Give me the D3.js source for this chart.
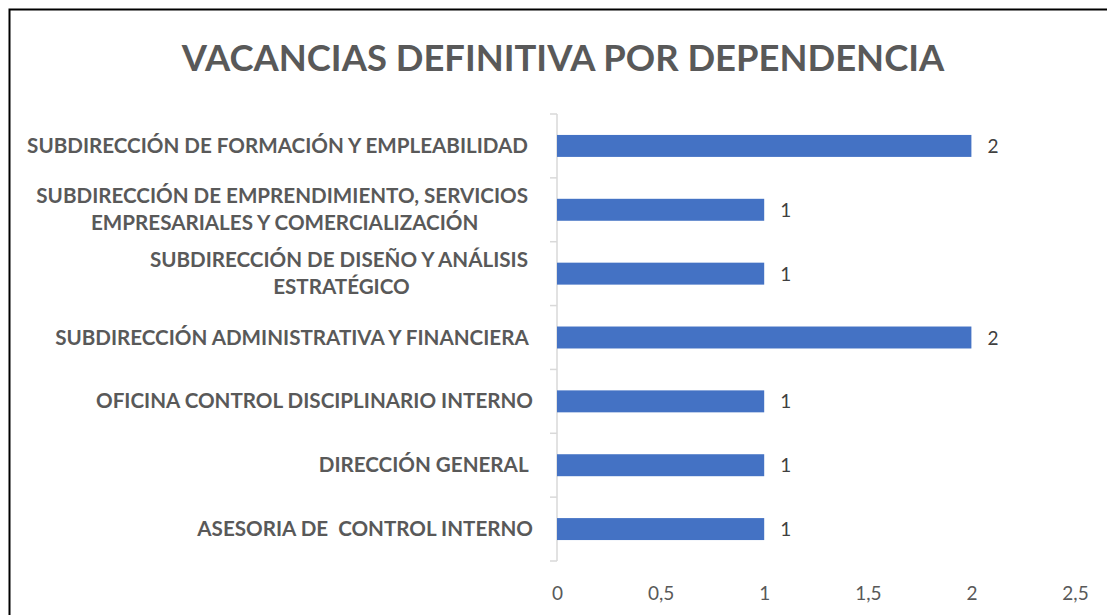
<!DOCTYPE html>
<html>
<head>
<meta charset="utf-8">
<script src="https://cdn.jsdelivr.net/npm/d3@7"></script>
<style>
  html, body { margin: 0; padding: 0; background: #fff; }
  svg { display: block; }
  text { font-family: Lato, "Open Sans", sans-serif; white-space: pre; }
</style>
</head>
<body>
<div id="chart"></div>
<script>
// data, bottom to top as in the picture ("|" marks the line break)
const categories = [
  "ASESORIA DE  CONTROL INTERNO",
  "DIRECCIÓN GENERAL ",
  "OFICINA CONTROL DISCIPLINARIO INTERNO",
  "SUBDIRECCIÓN ADMINISTRATIVA Y FINANCIERA ",
  "SUBDIRECCIÓN DE DISEÑO Y ANÁLISIS |ESTRATÉGICO",
  "SUBDIRECCIÓN DE EMPRENDIMIENTO, SERVICIOS |EMPRESARIALES Y COMERCIALIZACIÓN",
  "SUBDIRECCIÓN DE FORMACIÓN Y EMPLEABILIDAD "
];
const values = [1, 1, 1, 2, 1, 1, 2];
const xTicks = [0, 0.5, 1, 1.5, 2, 2.5];
const title = "VACANCIAS DEFINITIVA POR DEPENDENCIA";

const width = 1107, height = 615;
const margin = {top: 114, right: 32, bottom: 54, left: 557};

const svg = d3.select("#chart").append("svg")
  .attr("width", width)
  .attr("height", height);

// chart border (runs off the right and bottom of the picture)
svg.append("rect")
  .attr("x", 9.5).attr("y", 9.5)
  .attr("width", 1110).attr("height", 620)
  .attr("fill", "none")
  .attr("stroke", "#000")
  .attr("stroke-width", 2);

svg.append("text")
  .attr("x", 563)
  .attr("y", 71)
  .attr("text-anchor", "middle")
  .attr("font-size", 36.4)
  .attr("font-weight", "bold")
  .attr("fill", "#595959")
  .text(title);

const x = d3.scaleLinear()
  .domain([0, 2.5])
  .range([margin.left, width - margin.right]);

const y = d3.scaleBand()
  .domain(categories.slice().reverse())
  .range([margin.top, height - margin.bottom])
  .paddingInner(0.656)
  .paddingOuter(0.328);

// category axis line + ticks between bands
const yAxisG = svg.append("g");
yAxisG.append("line")
  .attr("x1", x(0)).attr("x2", x(0))
  .attr("y1", margin.top).attr("y2", height - margin.bottom)
  .attr("stroke", "#d9d9d9").attr("stroke-width", 1.5);
const step = (height - margin.bottom - margin.top) / categories.length;
d3.range(categories.length + 1).forEach(i => {
  yAxisG.append("line")
    .attr("x1", x(0) - 7).attr("x2", x(0))
    .attr("y1", margin.top + i * step).attr("y2", margin.top + i * step)
    .attr("stroke", "#d9d9d9").attr("stroke-width", 1.5);
});

// category labels: block right aligned, lines centred to each other
const labelRight = 533;
categories.forEach(c => {
  const lines = c.split("|");
  const cy = y(c) + y.bandwidth() / 2;
  const lh = 27;
  const t = svg.append("text")
    .attr("font-size", 20.6)
    .attr("font-weight", "bold")
    .attr("fill", "#595959");
  const spans = lines.map((l, i) => t.append("tspan")
    .attr("y", cy + (i - (lines.length - 1) / 2) * lh + 7)
    .text(l));
  const maxW = d3.max(spans, s => s.node().getComputedTextLength());
  t.attr("text-anchor", "middle");
  spans.forEach(s => s.attr("x", labelRight - maxW / 2));
});

// bars
svg.append("g").selectAll("rect")
  .data(categories)
  .join("rect")
  .attr("x", x(0))
  .attr("y", d => y(d))
  .attr("width", (d, i) => x(values[i]) - x(0))
  .attr("height", y.bandwidth())
  .attr("fill", "#4472c4");

// value labels
svg.append("g").selectAll("text")
  .data(categories)
  .join("text")
  .attr("x", (d, i) => x(values[i]) + 16)
  .attr("y", d => y(d) + y.bandwidth() / 2 + 7)
  .attr("font-size", 19)
  .attr("fill", "#404040")
  .text((d, i) => values[i]);

// value axis labels (no line, no gridlines)
const xAxis = d3.axisBottom(x)
  .tickValues(xTicks)
  .tickSize(0)
  .tickPadding(0)
  .tickFormat(d => String(d).replace(".", ","));
const xg = svg.append("g")
  .attr("transform", `translate(0,${height - 29})`)
  .call(xAxis);
xg.select(".domain").remove();
xg.selectAll("text")
  .attr("font-family", "Lato, sans-serif")
  .attr("font-size", 19)
  .attr("fill", "#595959");
</script>
</body>
</html>
